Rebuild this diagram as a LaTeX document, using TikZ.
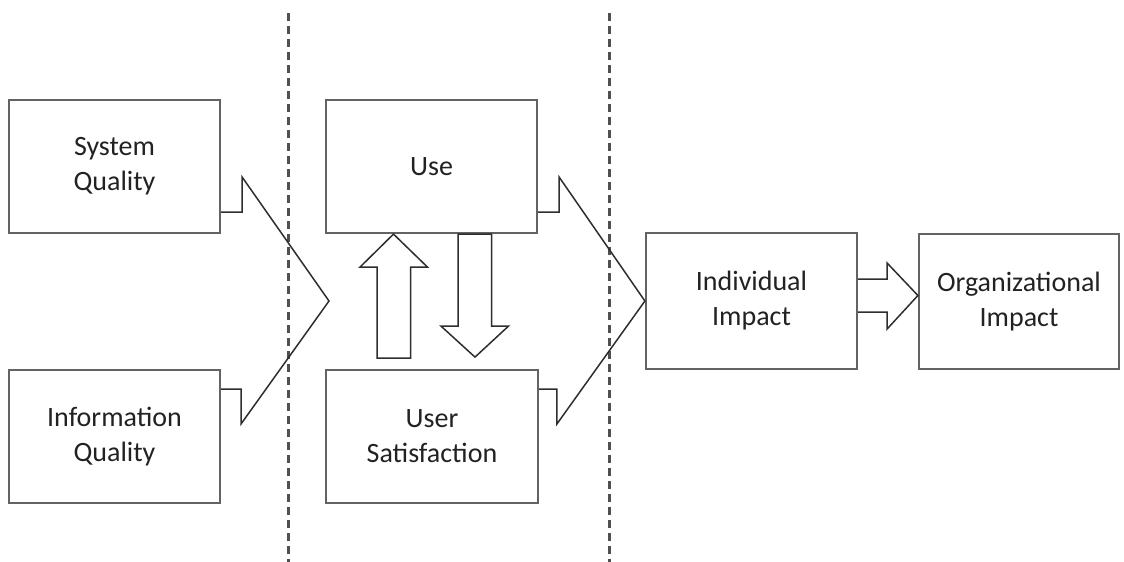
\documentclass[tikz,border=0pt]{standalone}
\usepackage{fontspec}
\setmainfont{Carlito}
\usetikzlibrary{calc}
\definecolor{boxgray}{HTML}{636363}
\definecolor{arrowgray}{HTML}{2E2E2E}
\definecolor{dashgray}{HTML}{505050}
\definecolor{txt}{HTML}{222222}
\begin{document}
\begin{tikzpicture}[x=1pt,y=-1pt,
  box/.style={draw=boxgray, line width=2.2pt, rectangle, align=center, inner sep=0pt,
    font=\fontsize{28}{35}\selectfont, text=txt, fill=white},
  blk/.style={draw=arrowgray, line width=1.5pt, line join=miter, fill=white},
  sep/.style={draw=dashgray, line width=3pt, dash pattern=on 8pt off 5pt}]
\useasboundingbox (0,0) rectangle (1124,562);

% separators
\coordinate (d1top) at (288,13);
\coordinate (d1bot) at (288,562);
\coordinate (d2top) at (609,13);
\coordinate (d2bot) at (609,562);
\draw[sep] (d1top) -- (d1bot);
\draw[sep] (d2top) -- (d2bot);

% boxes
\node[box, minimum width=211pt, minimum height=133pt] (sq) at (114.5,166.5) {System\\Quality};
\node[box, minimum width=211pt, minimum height=133pt] (iq) at (114.5,436.5) {Information\\Quality};
\node[box, minimum width=211pt, minimum height=133pt] (use) at (431.5,166.5) {Use};
\node[box, minimum width=212pt, minimum height=133pt] (us) at (432,436.5) {User\\Satisfaction};
\node[box, minimum width=211pt, minimum height=136pt] (ii) at (751.5,301) {Individual\\Impact};
\node[box, minimum width=200pt, minimum height=135pt] (oi) at (1019,301.5) {Organizational\\Impact};

% merging chevron 1
\coordinate (t1) at (329,301);
\draw[blk, fill=none] ($(sq.east)+(0,45.5)$) -- ++(21,0) -- ++(0,-35) -- (t1)
  -- ++(-88,123) -- ++(0,-35) -- ($(iq.east)+(0,-47.5)$);

% merging chevron 2
\draw[blk, fill=none] ($(use.east)+(0,45.5)$) -- ++(21,0) -- ++(0,-35) -- (ii.west)
  -- ++(-88,123) -- ++(0,-35) -- ($(us.east)+(0,-47.5)$);

% up arrow (User Satisfaction -> Use)
\coordinate (upTip) at ($(use.south)+(-38,0)$);
\draw[blk] ($(upTip)+(-16.5,124)$) -- ++(0,-91) -- ++(-17,0) -- (upTip)
  -- ++(34,33) -- ++(-17,0) -- ++(0,91) -- cycle;

% down arrow (Use -> User Satisfaction)
\coordinate (dnTop) at ($(use.south)+(43.5,0)$);
\draw[blk] ($(dnTop)+(-17,0)$) -- ++(0,92) -- ++(-17,0) -- ($(dnTop)+(0,123)$)
  -- ($(dnTop)+(33.5,92)$) -- ++(-17,0) -- ++(0,-92) -- cycle;

% arrow Individual -> Organizational
\draw[blk] ($(ii.east)+(0,-22)$) -- ++(29,0) -- ++(0,-16) -- ($(oi.west)+(0,-6)$)
  -- ($(ii.east)+(29,28)$) -- ++(0,-17) -- ($(ii.east)+(0,11)$);
\end{tikzpicture}
\end{document}
